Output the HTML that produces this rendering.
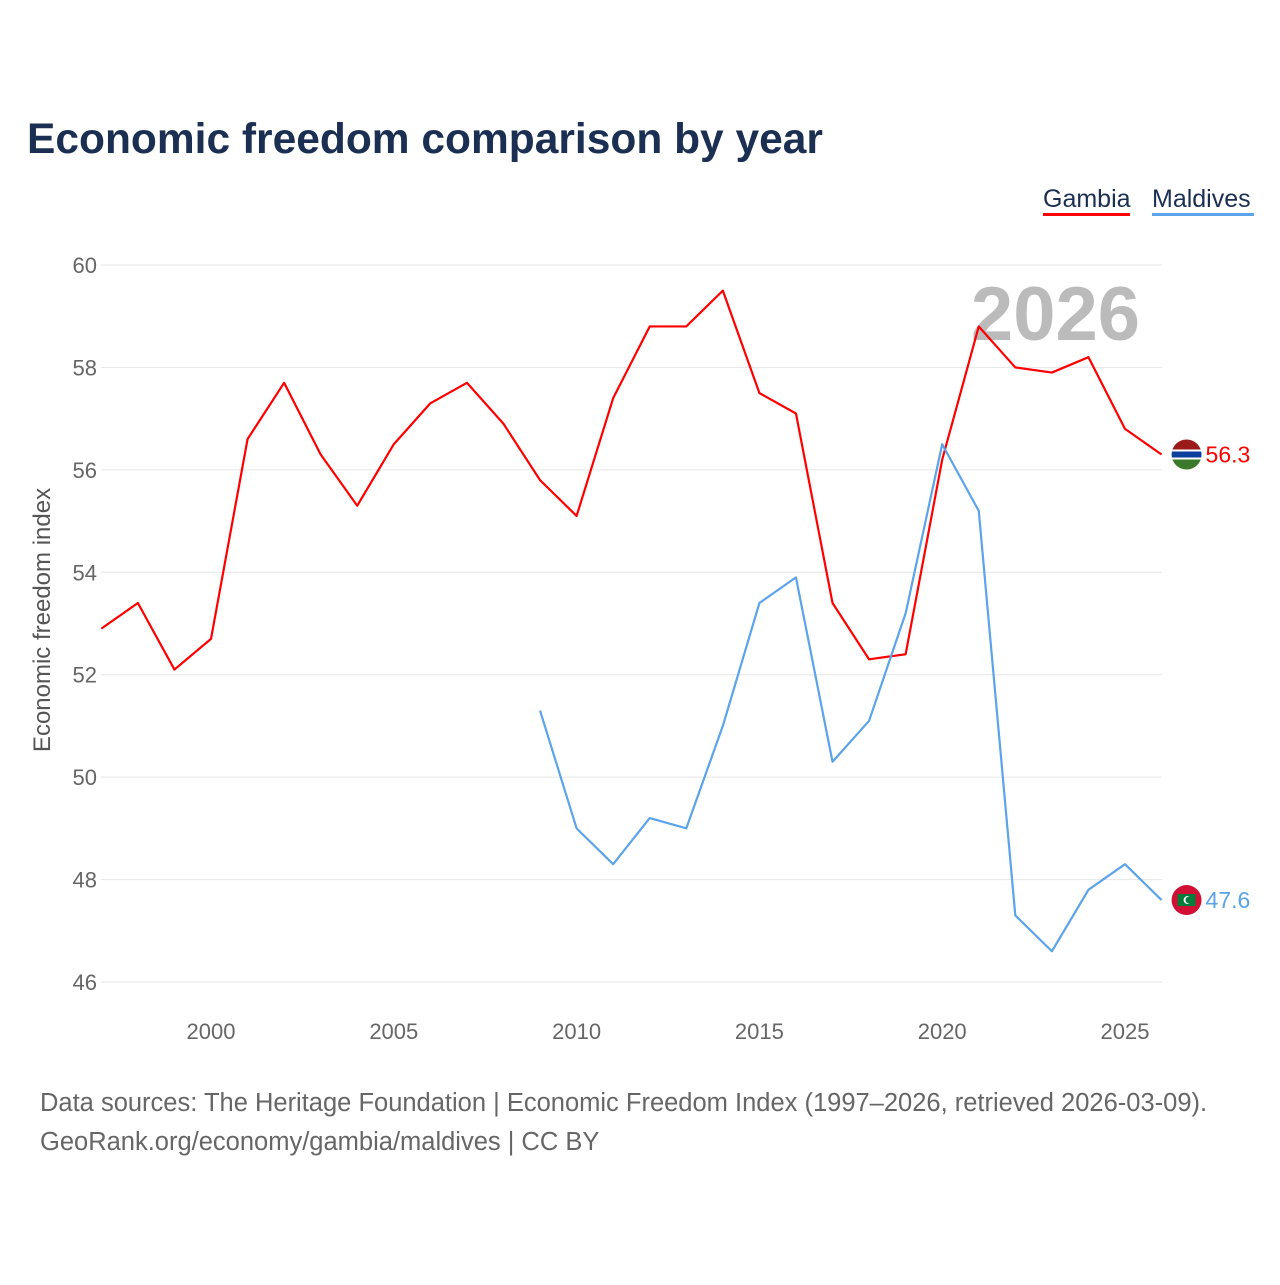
<!DOCTYPE html>
<html><head><meta charset="utf-8"><style>
body{margin:0;background:#fff;font-family:"Liberation Sans",sans-serif}
</style></head><body>
<svg width="1280" height="1280" xmlns="http://www.w3.org/2000/svg">
<text x="27" y="153" font-size="42.5" font-weight="bold" fill="#1b2f52">Economic freedom comparison by year</text>
<g>
<text x="1043" y="207" font-size="25" fill="#1b2f52">Gambia</text>
<rect x="1043" y="213" width="87" height="3" fill="#ff0000"/>
<text x="1152" y="207" font-size="25" fill="#1b2f52">Maldives</text>
<rect x="1152" y="213" width="102" height="3" fill="#5ba3ea"/>
</g>
<g id="grid"></g>
<text x="1140" y="340" font-size="76" font-weight="bold" fill="#bbb" text-anchor="end">2026</text>
<text transform="translate(50,620) rotate(-90)" font-size="24" fill="#555" text-anchor="middle">Economic freedom index</text>
<g id="series"></g>
<text x="40" y="1111" font-size="25.5" fill="#666">Data sources: The Heritage Foundation | Economic Freedom Index (1997–2026, retrieved 2026-03-09).</text>
<text x="40" y="1150" font-size="25.5" fill="#666">GeoRank.org/economy/gambia/maldives | CC BY</text>
</svg>
<script>
const yTicks=[46,48,50,52,54,56,58,60];
const xTicks=[2000,2005,2010,2015,2020,2025];
const gambiaYears=[1997,1998,1999,2000,2001,2002,2003,2004,2005,2006,2007,2008,2009,2010,2011,2012,2013,2014,2015,2016,2017,2018,2019,2020,2021,2022,2023,2024,2025,2026];
const gambiaValues=[52.9,53.4,52.1,52.7,56.6,57.7,56.3,55.3,56.5,57.3,57.7,56.9,55.8,55.1,57.4,58.8,58.8,59.5,57.5,57.1,53.4,52.3,52.4,56.2,58.8,58.0,57.9,58.2,56.8,56.3];
const maldivesYears=[2009,2010,2011,2012,2013,2014,2015,2016,2017,2018,2019,2020,2021,2022,2023,2024,2025,2026];
const maldivesValues=[51.3,49.0,48.3,49.2,49.0,51.0,53.4,53.9,50.3,51.1,53.2,56.5,55.2,47.3,46.6,47.8,48.3,47.6];
const NS="http://www.w3.org/2000/svg";
const X=y=>211+(y-2000)*36.56;
const Y=v=>265+(60-v)*51.214;
function mk(t,a,p){const e=document.createElementNS(NS,t);for(const k in a)e.setAttribute(k,a[k]);p.appendChild(e);return e;}
const g=document.getElementById('grid');
yTicks.forEach(v=>{
 const l=mk('line',{x1:101,x2:1162,y1:Y(v),y2:Y(v),stroke:'#e6e6e6','stroke-width':1},g);
 
 
 const t=mk('text',{x:97,y:Y(v)+8,'font-size':22,fill:'#666','text-anchor':'end'},g);t.textContent=v;
 
 
});
xTicks.forEach(v=>{
 const t=mk('text',{x:X(v),y:1039,'font-size':22,fill:'#666','text-anchor':'middle'},g);t.textContent=v;
 
 
});
const s=document.getElementById('series');
function line(ys,vs,c,name){
 const p=mk('polyline',{points:ys.map((y,i)=>X(y)+','+Y(vs[i])).join(' '),fill:'none',stroke:c,'stroke-width':2.2,'stroke-linejoin':'round'},s);
 
 
 const last=vs[vs.length-1],cy=Y(last),cx=X(ys[ys.length-1])+25;
 const t=mk('text',{x:cx+19,y:cy+8,'font-size':23,fill:c},s);t.textContent=last.toFixed(1);
 
 
 return [cx,cy];
}
let [gx,gy]=line(gambiaYears,gambiaValues,'#ff0000','gambia');
let [mx,my]=line(maldivesYears,maldivesValues,'#5ba3ea','maldives');
const f1=mk('g',{},s);


const cp=mk('clipPath',{id:'c1'},f1);
mk('circle',{cx:gx,cy:gy,r:15},cp);
const gg=mk('g',{'clip-path':'url(#c1)'},f1);
mk('rect',{x:gx-15,y:gy-15,width:30,height:10,fill:'#9b1b1b'},gg);
mk('rect',{x:gx-15,y:gy-5,width:30,height:10,fill:'#fff'},gg);
mk('rect',{x:gx-15,y:gy-3,width:30,height:6,fill:'#0c3e9e'},gg);
mk('rect',{x:gx-15,y:gy+5,width:30,height:10,fill:'#3a7a2a'},gg);
const f2=mk('g',{},s);


mk('circle',{cx:mx,cy:my,r:15,fill:'#d21034'},f2);
mk('rect',{x:mx-9,y:my-6,width:18,height:12,fill:'#007e3a'},f2);
mk('circle',{cx:mx+1,cy:my,r:4,fill:'#fff'},f2);
mk('circle',{cx:mx+2.5,cy:my,r:3.5,fill:'#007e3a'},f2);
</script>
</body></html>
